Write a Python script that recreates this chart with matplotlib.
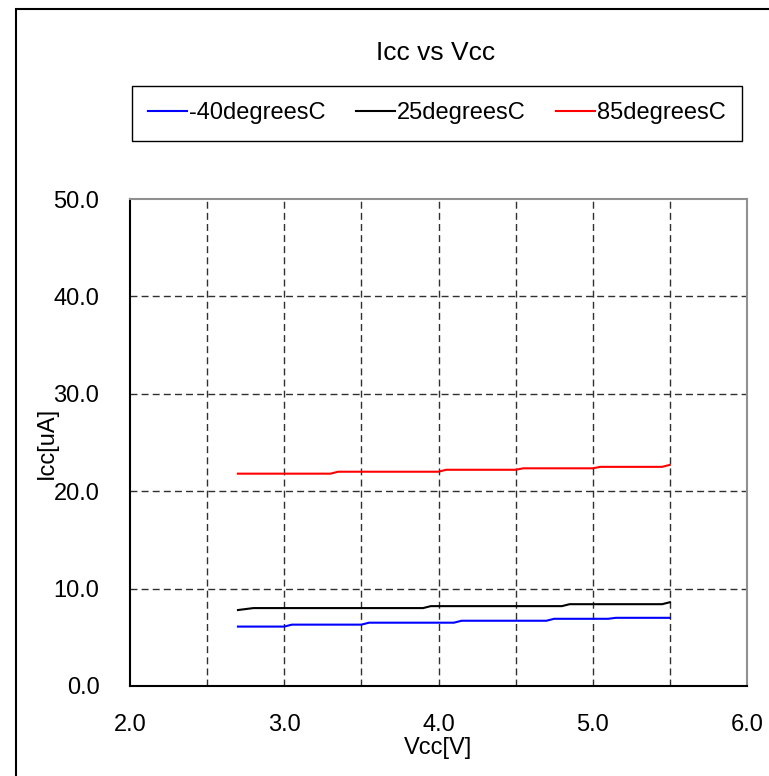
import numpy as np
import matplotlib
matplotlib.use("Agg")
import matplotlib.pyplot as plt
from matplotlib.patches import Rectangle

plt.rcParams['font.family'] = ['Liberation Sans', 'DejaVu Sans']

# supply voltage, 2.70 .. 5.50 V in 0.05 V steps
vcc = [2.70, 2.75, 2.80, 2.85, 2.90, 2.95, 3.00, 3.05, 3.10, 3.15,
       3.20, 3.25, 3.30, 3.35, 3.40, 3.45, 3.50, 3.55, 3.60, 3.65,
       3.70, 3.75, 3.80, 3.85, 3.90, 3.95, 4.00, 4.05, 4.10, 4.15,
       4.20, 4.25, 4.30, 4.35, 4.40, 4.45, 4.50, 4.55, 4.60, 4.65,
       4.70, 4.75, 4.80, 4.85, 4.90, 4.95, 5.00, 5.05, 5.10, 5.15,
       5.20, 5.25, 5.30, 5.35, 5.40, 5.45, 5.50]

icc_m40 = [6.1, 6.1, 6.1, 6.1, 6.1, 6.1, 6.1, 6.3, 6.3, 6.3,
           6.3, 6.3, 6.3, 6.3, 6.3, 6.3, 6.3, 6.5, 6.5, 6.5,
           6.5, 6.5, 6.5, 6.5, 6.5, 6.5, 6.5, 6.5, 6.5, 6.7,
           6.7, 6.7, 6.7, 6.7, 6.7, 6.7, 6.7, 6.7, 6.7, 6.7,
           6.7, 6.9, 6.9, 6.9, 6.9, 6.9, 6.9, 6.9, 6.9, 7.0,
           7.0, 7.0, 7.0, 7.0, 7.0, 7.0, 7.0]

icc_25 = [7.8, 7.9, 8.0, 8.0, 8.0, 8.0, 8.0, 8.0, 8.0, 8.0,
          8.0, 8.0, 8.0, 8.0, 8.0, 8.0, 8.0, 8.0, 8.0, 8.0,
          8.0, 8.0, 8.0, 8.0, 8.0, 8.2, 8.2, 8.2, 8.2, 8.2,
          8.2, 8.2, 8.2, 8.2, 8.2, 8.2, 8.2, 8.2, 8.2, 8.2,
          8.2, 8.2, 8.2, 8.4, 8.4, 8.4, 8.4, 8.4, 8.4, 8.4,
          8.4, 8.4, 8.4, 8.4, 8.4, 8.4, 8.6]

icc_85 = [21.8, 21.8, 21.8, 21.8, 21.8, 21.8, 21.8, 21.8, 21.8, 21.8,
          21.8, 21.8, 21.8, 22.0, 22.0, 22.0, 22.0, 22.0, 22.0, 22.0,
          22.0, 22.0, 22.0, 22.0, 22.0, 22.0, 22.0, 22.2, 22.2, 22.2,
          22.2, 22.2, 22.2, 22.2, 22.2, 22.2, 22.2, 22.35, 22.35, 22.35,
          22.35, 22.35, 22.35, 22.35, 22.35, 22.35, 22.35, 22.5, 22.5, 22.5,
          22.5, 22.5, 22.5, 22.5, 22.5, 22.5, 22.7]

labels = ['-40degreesC', '25degreesC', '85degreesC']
colors = ['#0000ff', '#000000', '#ff0000']

x_ticks = [2.0, 3.0, 4.0, 5.0, 6.0]
x_grid = [2.5, 3.0, 3.5, 4.0, 4.5, 5.0, 5.5]
y_ticks = [0.0, 10.0, 20.0, 30.0, 40.0, 50.0]
y_grid = [10.0, 20.0, 30.0, 40.0]

fig = plt.figure(figsize=(7.69, 7.76), dpi=100)
ax = fig.add_axes([130 / 769, 90 / 776, 617 / 769, 487 / 776])

# dashed grid drawn by hand, minor ticks would drop the ones on major positions
for gx in x_grid:
    ax.axvline(gx, color='#303030', lw=1.0, ls=(0, (5, 3)), zorder=1)
for gy in y_grid:
    ax.axhline(gy, color='#303030', lw=1.0, ls=(0, (5, 3)), zorder=1)

for ys, lab, c in zip([icc_m40, icc_25, icc_85], labels, colors):
    ax.plot(vcc, ys, color=c, lw=1.5, label=lab, zorder=3)

ax.set_xlim(2.0, 6.0)
ax.set_ylim(0.0, 50.0)
ax.set_xticks(x_ticks)
ax.set_xticklabels(['%.1f' % v for v in x_ticks])
ax.set_yticks(y_ticks)
ax.set_yticklabels(['%.1f' % v for v in y_ticks])
ax.tick_params(axis='x', length=0, pad=20, labelsize=17)
ax.tick_params(axis='y', length=0, pad=22, labelsize=17)

for s in ['left', 'bottom']:
    ax.spines[s].set_color('black')
    ax.spines[s].set_linewidth(1.5)
for s in ['top', 'right']:
    ax.spines[s].set_color('#909090')
    ax.spines[s].set_linewidth(1.5)

ax.set_xlabel('Vcc[V]', fontsize=17, labelpad=1)
ax.set_ylabel('Icc[uA]', fontsize=17, labelpad=-3)

fig.text(436 / 769, 1 - 53 / 776, 'Icc vs Vcc', fontsize=19, ha='center', va='center')

leg = fig.legend(loc='center', bbox_to_anchor=(437 / 769, 1 - 113.5 / 776), ncol=3,
                 fontsize=17, handlelength=1.65, handletextpad=0.1, columnspacing=1.27,
                 borderpad=0.7, fancybox=False, framealpha=1, edgecolor='black')
leg.get_frame().set_linewidth(1.0)

fig.patches.append(Rectangle((16 / 769, -0.05), 1.0, 1 - 9 / 776 + 0.05,
                             transform=fig.transFigure, fill=False,
                             edgecolor='black', lw=1.5))

fig.savefig('out.png', dpi=100)
